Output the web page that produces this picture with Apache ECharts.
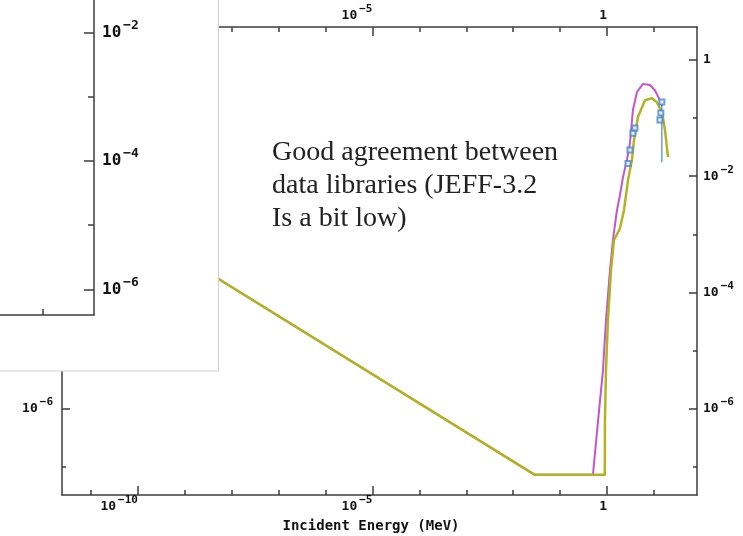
<!DOCTYPE html>
<html>
<head>
<meta charset="utf-8">
<script src="https://cdn.jsdelivr.net/npm/echarts@6/dist/echarts.min.js"></script>
<style>html,body{margin:0;padding:0;background:#fff}#c{width:743px;height:536px}</style>
</head>
<body>
<div id="c"></div>
<script>
// ---- data (energies in MeV, cross sections in barns) ----
const libAEnergy = [1e-11, 0.029, 0.502, 0.646, 0.822, 0.953, 1.16, 1.34, 1.63, 1.89, 2.19, 2.67, 3.09, 3.58, 4.37, 5.86, 8.26, 10.5, 13.5, 14.9];
const libAXs     = [3.9e-3, 7.2e-8, 7.2e-8, 6.2e-7, 4.5e-6, 3.3e-5, 2.4e-4, 7.9e-4, 2.57e-3, 4.7e-3, 9.5e-3, 0.019, 0.037, 0.138, 0.282, 0.389, 0.372, 0.302, 0.204, 0.162];
const libBEnergy = [1e-11, 0.029, 0.9, 0.906, 0.953, 1.05, 1.22, 1.41, 1.89, 2.30, 2.81, 3.41, 3.77, 4.58, 6.46, 9.12, 11.6, 14.9, 17.3, 20.0];
const libBXs     = [3.9e-3, 7.2e-8, 7.2e-8, 6.2e-7, 4.5e-6, 3.3e-5, 2.4e-4, 7.9e-4, 1.26e-3, 2.57e-3, 8.5e-3, 0.019, 0.042, 0.105, 0.204, 0.221, 0.189, 0.127, 0.062, 0.0214];
const expEnergy  = [2.81, 3.09, 3.58, 3.95, 13.5, 14.1, 14.8];
const expXs      = [0.0166, 0.0282, 0.055, 0.068, 0.093, 0.123, 0.19];
const expLow     = [0.0155, 0.0262, 0.051, 0.063, 0.086, 0.114, 0.0174];
const expHigh    = [0.0178, 0.0302, 0.059, 0.073, 0.100, 0.132, 0.205];

// axis ticks (decade exponents)
const xTickExp      = [-11, -10, -9, -8, -7, -6, -5, -4, -3, -2, -1, 0, 1];
const xLabelExp     = [-10, -5, 0];
const yTickExp      = [-7, -6, -5, -4, -3, -2, -1, 0];
const yLabelExp     = [-6, -4, -2, 0];
const insetTickExp  = [-6, -5, -4, -3, -2, -1];
const insetLabelExp = [-6, -4, -2];
const xTitle = 'Incident Energy (MeV)';
const note = 'Good agreement between\ndata libraries (JEFF-3.2\nIs a bit low)';

const L = Math.log10;
const pairs = (xs, ys) => xs.map((x, i) => [L(x), L(ys[i])]);

const FONT = '"DejaVu Sans Mono", monospace';
const AX = '#3c3c3c';
function fmt(v) {
  const n = Math.round(v);
  return n === 0 ? '{b|1}' : '{b|10}{s|\u2212' + (-n) + '}';
}
function rich(b, s) {
  return {
    b: { fontFamily: FONT, fontWeight: 'bold', fontSize: b, color: '#111', lineHeight: b + 11 },
    s: { fontFamily: FONT, fontWeight: 'bold', fontSize: s, color: '#111', verticalAlign: 'top', padding: [0, 0, 0, 2] }
  };
}
const line = { show: true, onZero: false, lineStyle: { color: AX, width: 1.5 } };
const noLine = { show: false, onZero: false };

const X0 = -11.62, X1 = 1.92, Y0 = -7.49, Y1 = 0.57;

function xAx(pos, major) {
  return {
    type: 'value', gridIndex: 0, position: pos, min: X0, max: X1,
    axisLine: major ? noLine : line,
    splitLine: { show: false },
    axisTick: { show: true, inside: true, length: major ? 9 : 5, lineStyle: { color: AX, width: 1.5 },
                customValues: major ? xLabelExp : xTickExp },
    axisLabel: major ? { show: true, customValues: xLabelExp, formatter: fmt, rich: rich(13, 11), align: 'right',
                         margin: pos === 'top' ? -1 : 0 }
                     : { show: false }
  };
}
function yAx(pos, major) {
  return {
    type: 'value', gridIndex: 0, position: pos, min: Y0, max: Y1,
    axisLine: major ? noLine : line,
    splitLine: { show: false },
    axisTick: { show: true, inside: true, length: major ? 8 : 4, lineStyle: { color: AX, width: 1.5 },
                customValues: major ? yLabelExp : yTickExp },
    axisLabel: major ? { show: true, customValues: yLabelExp, formatter: fmt, rich: rich(13, 11), margin: pos === 'left' ? 9 : 6 }
                     : { show: false }
  };
}

const xBottomMajor = xAx('bottom', true);
xBottomMajor.name = xTitle;
xBottomMajor.nameLocation = 'middle';
xBottomMajor.nameGap = 24;
xBottomMajor.nameTextStyle = { fontFamily: FONT, fontWeight: 'bold', fontSize: 14, color: '#111', padding: [0, 17, 0, 0] };

const chart = echarts.init(document.getElementById('c'), null, { renderer: 'canvas' });
chart.setOption({
  animation: false,
  backgroundColor: '#fff',
  grid: [
    { left: 62, right: 46, top: 27, bottom: 41, outerBoundsMode: 'none', containLabel: false },
    { left: -300, top: -96, width: 394, height: 411, outerBoundsMode: 'none', containLabel: false }
  ],
  xAxis: [
    xAx('bottom', false), xBottomMajor, xAx('top', false), xAx('top', true),
    { type: 'value', gridIndex: 1, position: 'bottom', min: 0, max: 394, z: 60,
      axisLine: line, splitLine: { show: false },
      axisTick: { show: true, inside: true, length: 6, lineStyle: { color: AX, width: 1.5 }, customValues: [343] },
      axisLabel: { show: false } }
  ],
  yAxis: [
    yAx('left', false), yAx('left', true), yAx('right', false), yAx('right', true),
    { type: 'value', gridIndex: 1, position: 'right', min: -6.397, max: 0, z: 60,
      axisLine: line, splitLine: { show: false },
      axisTick: { show: true, inside: true, length: 6, lineStyle: { color: AX, width: 1.5 }, customValues: insetTickExp },
      axisLabel: { show: false } },
    { type: 'value', gridIndex: 1, position: 'right', min: -6.397, max: 0, z: 60,
      axisLine: noLine, splitLine: { show: false },
      axisTick: { show: true, inside: true, length: 10, lineStyle: { color: AX, width: 1.5 }, customValues: insetLabelExp },
      axisLabel: { show: true, customValues: insetLabelExp, formatter: fmt, rich: rich(16, 13), margin: 8 } }
  ],
  graphic: [
    { type: 'rect', z: 50, shape: { x: -1, y: -1, width: 219.5, height: 372 },
      style: { fill: '#fff', stroke: '#d2d2d2', lineWidth: 1 } },
    { type: 'text', z: 60, x: 272, y: 136,
      style: { text: note, fontFamily: '"Liberation Serif", serif', fontSize: 28, lineHeight: 33, fill: '#222' } }
  ],
  series: [
    { type: 'line', xAxisIndex: 0, yAxisIndex: 0, data: pairs(libAEnergy, libAXs), showSymbol: false,
      lineStyle: { color: '#c257c9', width: 2 }, z: 2 },
    { type: 'line', xAxisIndex: 0, yAxisIndex: 0, data: pairs(libBEnergy, libBXs), showSymbol: false,
      lineStyle: { color: '#b3b322', width: 2.5 }, z: 3 },
    { type: 'custom', xAxisIndex: 0, yAxisIndex: 0, z: 4,
      data: expEnergy.map((e, i) => [L(e), L(expLow[i]), L(expHigh[i])]),
      renderItem: function (params, api) {
        const p1 = api.coord([api.value(0), api.value(1)]);
        const p2 = api.coord([api.value(0), api.value(2)]);
        return { type: 'line', shape: { x1: p1[0], y1: p1[1], x2: p2[0], y2: p2[1] },
                 style: { stroke: '#4a86d0', lineWidth: 1.2 } };
      } },
    { type: 'scatter', xAxisIndex: 0, yAxisIndex: 0, z: 5, data: pairs(expEnergy, expXs),
      symbol: 'emptyRect', symbolSize: 5, itemStyle: { color: '#4a86d0', borderColor: '#4a86d0', borderWidth: 1.5 } }
  ]
});
</script>
</body>
</html>
